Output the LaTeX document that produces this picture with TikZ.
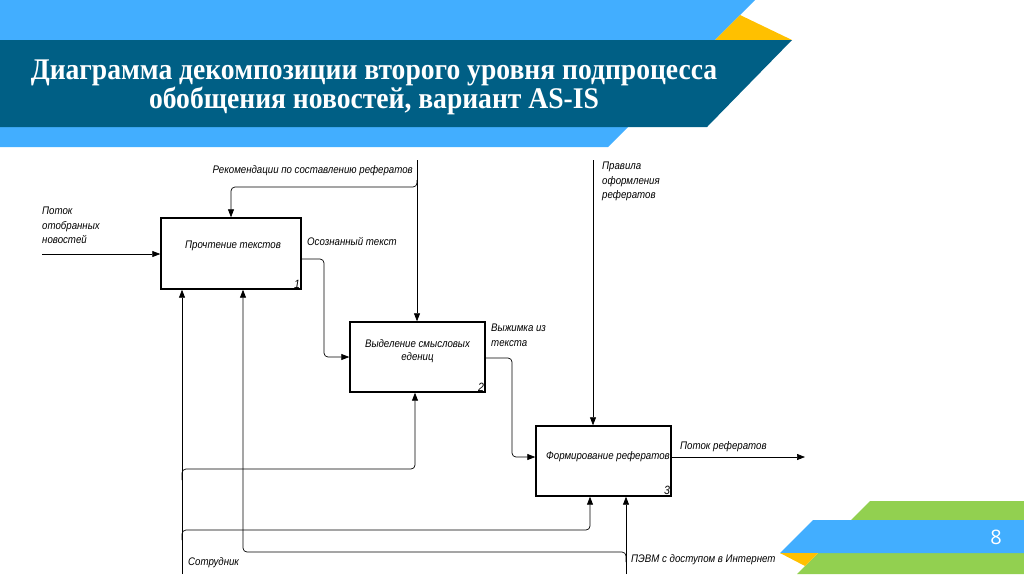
\documentclass[tikz,border=0pt]{standalone}
\usepackage{fontspec}
\usepackage{tikz}
\usetikzlibrary{arrows.meta}

\newfontfamily\titlefont{Liberation Serif}[FakeStretch=0.92]
\newfontfamily\idef{Liberation Sans}[FakeStretch=0.88]
\newfontfamily\pagefont{Open Sans}

\definecolor{skyBlue}{HTML}{42AEFF}
\definecolor{deepBlue}{HTML}{005F85}
\definecolor{sunYellow}{HTML}{FFC000}
\definecolor{leafGreen}{HTML}{92D050}

\begin{document}
\begin{tikzpicture}[x=1pt,y=-1pt,
        func/.style = {draw, line width=1.4pt,
            minimum width=139pt,
            minimum height=70pt,
            inner sep=0pt},
        ftext/.style = {font=\idef\itshape\fontsize{11}{12.5}\selectfont,
            align=center, inner sep=0pt},
        num/.style = {font=\idef\itshape\fontsize{12}{12}\selectfont,
            inner sep=1.5pt, anchor=south east},
        arrlabel/.style = {font=\idef\itshape\fontsize{11}{14.5}\selectfont,
            align=left, inner sep=0pt},
        arr/.style = {line width=0.7pt,
            -{Triangle[length=8pt,width=6pt]}},
        link/.style = {arr, rounded corners=4pt}]

        \useasboundingbox (0,0) rectangle (1024,574);

        % Header bands
        \fill[skyBlue] (0,0) -- (755,0) -- (608,147) -- (0,147) -- cycle;
        \fill[sunYellow] (715,40) -- (740,15) -- (792,40) -- cycle;
        \fill[deepBlue] (0,40) -- (792,40) -- (707,127) -- (0,127) -- cycle;
        \node[white, align=center,
            font=\titlefont\bfseries\fontsize{30}{27}\selectfont]
            (title) at (374,87)
            {Диаграмма декомпозиции второго уровня подпроцесса\\
             обобщения новостей, вариант AS-IS};

        % Footer bands
        \fill[leafGreen] (870,501) -- (1024,501) -- (1024,574) -- (797,574) -- cycle;
        \fill[skyBlue] (813,520) -- (1024,520) -- (1024,553) -- (780,553) -- cycle;
        \fill[sunYellow] (780,553) -- (818,553) -- (805,566) -- cycle;
        \node[white, font=\pagefont\fontsize{20}{20}\selectfont]
            (pagenum) at (996,537) {8};

        % Function blocks
        \node[func, minimum width=140pt, minimum height=71pt] (read) at (231,253.5) {};
        \node[ftext] (readtext) at (233,246) {Прочтение текстов};
        \node[num] at (read.south east) {1};

        \node[func, minimum width=135pt] (extract) at (417.5,357) {};
        \node[ftext] (extracttext) at (417.5,351) {Выделение смысловых\\едениц};
        \node[num] at (extract.south east) {2};

        \node[func, minimum width=135pt] (form) at (603.5,461) {};
        \node[ftext] (formtext) at (608,457) {Формирование рефератов};
        \node[num] at (form.south east) {3};

        % Free ends and bends
        \coordinate (newsin) at (42,254);
        \coordinate (rectop) at (417,160);
        \coordinate (recsplit) at (417,180);
        \coordinate (recbend) at (231,187);
        \coordinate (osoz) at (324,259);
        \coordinate (vyzh) at (512,358);
        \coordinate (rulestop) at (593,160);
        \coordinate (refout) at (805,457);
        \coordinate (staffin) at (182,574);
        \coordinate (staffsplit1) at (182,480);
        \coordinate (staffbend1) at (415,469);
        \coordinate (staffsplit2) at (182,540);
        \coordinate (staffbend2) at (590,530);
        \coordinate (pcin) at (626,574);
        \coordinate (pcsplit) at (626,562);
        \coordinate (pcbend) at (243,552);

        % Inputs, controls, outputs
        \draw[arr] (newsin) -- (newsin -| read.west);
        \draw[arr] (rectop) -- (rectop |- extract.north);
        \draw[link] (recsplit) |- (recbend) -- (read.north);
        \draw[link] (read.east |- osoz) -- (osoz) |- (extract.west);
        \draw[link] (extract.east |- vyzh) -- (vyzh) |- (form.west |- refout);
        \draw[arr] (rulestop) -- (rulestop |- form.north);
        \draw[arr] (form.east |- refout) -- (refout);

        % Mechanisms
        \draw[arr] (staffin) -- (staffin |- read.south);
        \draw[link] (staffsplit1) |- (staffbend1) -- (staffbend1 |- extract.south);
        \draw[link] (staffsplit2) |- (staffbend2) -- (staffbend2 |- form.south);
        \draw[arr] (pcin) -- (pcin |- form.south);
        \draw[link] (pcsplit) |- (pcbend) -- (pcbend |- read.south);

        % Arrow labels
        \node[arrlabel, anchor=north west] (newslabel) at (42,207)
            {Поток\\отобранных\\новостей};
        \node[arrlabel, anchor=east] (reclabel) at (413,171)
            {Рекомендации по составлению рефератов};
        \node[arrlabel, anchor=west] (osozlabel) at (307,241) {Осознанный текст};
        \node[arrlabel, anchor=north west] (vyzhlabel) at (491,324)
            {Выжимка из\\текста};
        \node[arrlabel, anchor=north west] (ruleslabel) at (602,162)
            {Правила\\оформления\\рефератов};
        \node[arrlabel, anchor=west] (reflabel) at (680,447) {Поток рефератов};
        \node[arrlabel, anchor=west] (stafflabel) at (188,563) {Сотрудник};
        \node[arrlabel, anchor=west] (pclabel) at (631,560) {ПЭВМ с доступом в Интернет};
    \end{tikzpicture}
\end{document}
